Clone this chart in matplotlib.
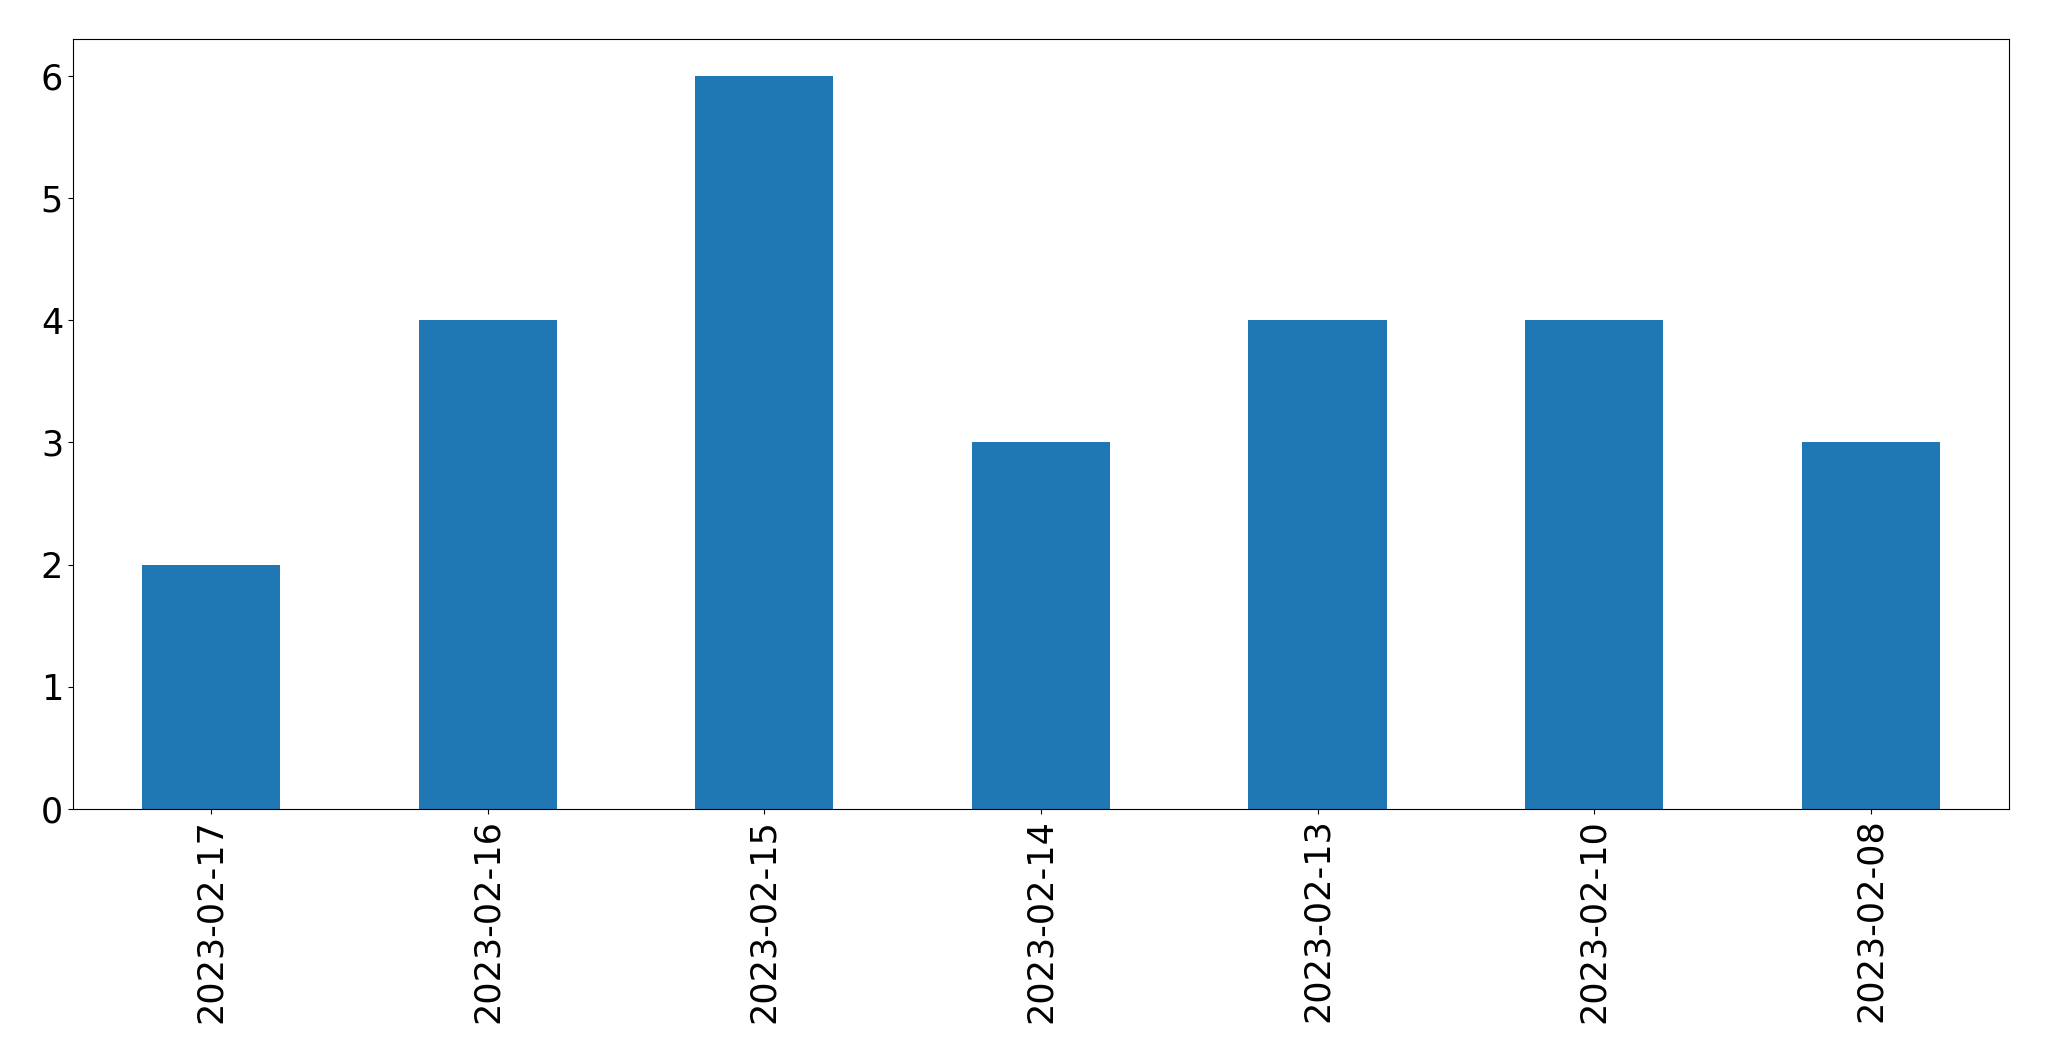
import matplotlib
matplotlib.use("Agg")
import matplotlib.pyplot as plt
import numpy as np

dates = ["2023-02-17", "2023-02-16", "2023-02-15", "2023-02-14",
         "2023-02-13", "2023-02-10", "2023-02-08"]
counts = [2, 4, 6, 3, 4, 4, 3]

fig, ax = plt.subplots(figsize=(20.49, 10.61), dpi=100)
fig.subplots_adjust(left=0.0355, right=0.9805, top=0.963, bottom=0.2375)

x = np.arange(len(dates))
ax.bar(x, counts, width=0.5, color="#1f77b4")
ax.set_xlim(-0.5, len(dates) - 0.5)
ax.set_ylim(0, max(counts) * 1.05)
ax.set_xticks(x)
ax.set_xticklabels(dates, rotation=90)
ax.tick_params(labelsize=25.2)

fig.savefig("out.png", dpi=100)
